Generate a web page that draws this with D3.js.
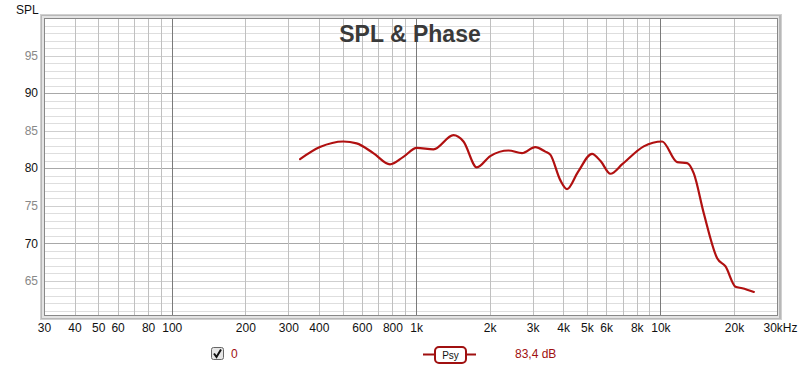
<!DOCTYPE html>
<html>
<head>
<meta charset="utf-8">
<script src="https://cdn.jsdelivr.net/npm/d3@7/dist/d3.min.js"></script>
<style>
html,body{margin:0;padding:0;background:#fff;}
svg{display:block;font-family:"Liberation Sans",Arial,sans-serif;}
</style>
</head>
<body>
<svg id="chart" width="800" height="374"></svg>
<script>
// ---- data ----
const freqs = [335, 404, 504, 571, 668, 782, 887, 1007, 1178, 1422, 1563, 1773, 2011, 2389, 2712, 3074, 3379, 3542, 3892, 4147, 4600, 5248, 5700, 6238, 7000, 8544, 10160, 11705, 12860, 13695, 15045, 17070, 18470, 20290, 21620, 24120];
const spl   = [81.2, 82.8, 83.55, 83.3, 82.0, 80.5, 81.5, 82.7, 82.5, 84.4, 83.55, 80.1, 81.6, 82.35, 82.0, 82.8, 82.2, 81.8, 78.4, 77.2, 79.5, 81.9, 80.9, 79.25, 80.56, 82.9, 83.55, 80.8, 80.67, 79.3, 74.0, 68.0, 66.9, 64.2, 64.0, 63.5];
const xTickValues = [30, 40, 50, 60, 80, 100, 200, 300, 400, 600, 800, 1000, 2000, 3000, 4000, 5000, 6000, 8000, 10000, 20000, 30000];
const xTickLabels = ["30", "40", "50", "60", "80", "100", "200", "300", "400", "600", "800", "1k", "2k", "3k", "4k", "5k", "6k", "8k", "10k", "20k", "30kHz"];
const yTickValues = [65, 70, 75, 80, 85, 90, 95];
const seriesName = "Psy";
const legendValue = "83,4 dB";
const legendIndex = "0";

// ---- layout ----
const L = 44, R = 777, T = 18, B = 316;
const svg = d3.select("#chart");
const x = d3.scaleLog().domain([30, 30000]).range([L, R]);
const y = d3.scaleLinear().domain([60.3, 100]).range([B, T]);

// frame / bevel
svg.append("rect").attr("x", 40).attr("y", 14).attr("width", 742).attr("height", 306).attr("fill", "#d0d0d0");
svg.append("rect").attr("x", 41).attr("y", 15).attr("width", 740).attr("height", 304).attr("fill", "#b8b8b8");
svg.append("rect").attr("x", 42).attr("y", 16).attr("width", 737).attr("height", 302).attr("fill", "#e4e4e4");
svg.append("rect").attr("x", L).attr("y", T).attr("width", R - L + 1).attr("height", B - T).attr("fill", "#fff");

const g = svg.append("g");

// horizontal grid (every 1 dB)
const hLines = d3.range(61, 100, 1);
g.selectAll("line.h").data(hLines).join("line")
  .attr("x1", L).attr("x2", R + 1)
  .attr("y1", d => Math.round(y(d)) + 0.5).attr("y2", d => Math.round(y(d)) + 0.5)
  .attr("stroke", d => d % 10 === 0 ? "#a8a8a8" : (d % 5 === 0 ? "#cfcfcf" : "#dedede"))
  .attr("stroke-width", 1);

// vertical grid
const vLines = [];
[10, 100, 1000, 10000].forEach(dec => { for (let k = 1; k < 10; k++) { const v = dec * k; if (v > 30 && v < 30000) vLines.push(v); } });
g.selectAll("line.v").data(vLines).join("line")
  .attr("x1", d => Math.round(x(d)) + 0.5).attr("x2", d => Math.round(x(d)) + 0.5)
  .attr("y1", T).attr("y2", B)
  .attr("stroke", d => [100, 1000, 10000].includes(d) ? "#7a7a7a" : "#c0c0c0")
  .attr("stroke-width", 1);

// plot border
svg.append("rect").attr("x", L + 0.5).attr("y", T + 0.5).attr("width", R - L).attr("height", B - T - 1)
  .attr("fill", "none").attr("stroke", "#888").attr("stroke-width", 1);

// curve
const pts = freqs.map((f, i) => [f, spl[i]]);
const line = d3.line().x(d => x(d[0])).y(d => y(d[1])).curve(d3.curveMonotoneX);
svg.append("path").datum(pts).attr("d", line)
  .attr("fill", "none").attr("stroke", "#b01010").attr("stroke-width", 2.2)
  .attr("stroke-linejoin", "round").attr("stroke-linecap", "round");

// x axis labels
const xAxis = d3.axisBottom(x).tickValues(xTickValues).tickSize(0).tickPadding(0)
  .tickFormat((d, i) => xTickLabels[i]);
const xg = svg.append("g").attr("transform", `translate(0,${B + 7})`).call(xAxis);
xg.select(".domain").remove();
xg.selectAll("text").attr("font-size", 12).attr("fill", "#111")
  .attr("font-family", "'Liberation Sans',Arial,sans-serif")
  .attr("text-anchor", (d, i) => i === xTickLabels.length - 1 ? "start" : "middle")
  .attr("dx", (d, i) => i === xTickLabels.length - 1 ? -14 : 0);

// y axis labels
const yAxis = d3.axisLeft(y).tickValues(yTickValues).tickSize(0).tickPadding(0).tickFormat(d3.format("d"));
const yg = svg.append("g").attr("transform", `translate(${L - 6},0)`).call(yAxis);
yg.select(".domain").remove();
yg.selectAll("text").attr("font-size", 12)
  .attr("font-family", "'Liberation Sans',Arial,sans-serif")
  .attr("fill", d => d % 10 === 0 ? "#111" : "#888");

// SPL axis title
svg.append("text").attr("x", 16).attr("y", 14).attr("font-size", 12).attr("fill", "#111").text("SPL");

// chart title
svg.append("text").attr("x", 410).attr("y", 42).attr("text-anchor", "middle")
  .attr("font-size", 23).attr("font-weight", "bold").attr("fill", "#3a3a3a").text("SPL & Phase");

// legend: checkbox
const cb = svg.append("g").attr("transform", "translate(211,347)");
cb.append("rect").attr("x", 0.5).attr("y", 0.5).attr("width", 12).attr("height", 12).attr("rx", 2)
  .attr("fill", "#e6e6e6").attr("stroke", "#666");
cb.append("path").attr("d", "M3,6.5 L5.5,10 L10,2.5").attr("fill", "none").attr("stroke", "#111").attr("stroke-width", 2);
svg.append("text").attr("x", 231).attr("y", 358).attr("font-size", 12).attr("fill", "#a01010").text(legendIndex);

// legend: series symbol
const lg = svg.append("g");
lg.append("line").attr("x1", 423).attr("x2", 476).attr("y1", 354.5).attr("y2", 354.5).attr("stroke", "#a01010").attr("stroke-width", 2);
lg.append("rect").attr("x", 435).attr("y", 347).attr("width", 31).attr("height", 16).attr("rx", 4)
  .attr("fill", "#fff").attr("stroke", "#a01010").attr("stroke-width", 2);
lg.append("text").attr("x", 450.5).attr("y", 359).attr("text-anchor", "middle").attr("font-size", 10).attr("fill", "#111").text(seriesName);
svg.append("text").attr("x", 515).attr("y", 358).attr("font-size", 12).attr("fill", "#a01010").text(legendValue);
</script>
</body>
</html>
